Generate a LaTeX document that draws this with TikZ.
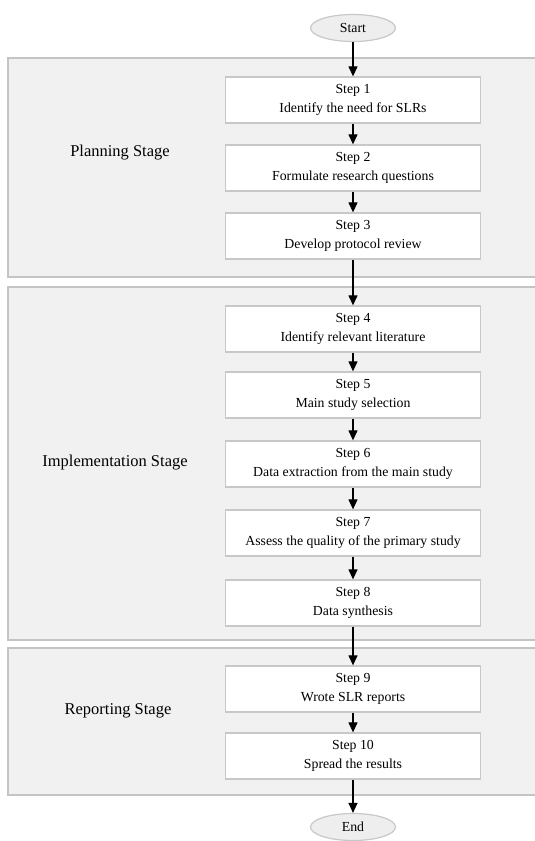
\documentclass[tikz,border=0pt]{standalone}
\usepackage{fontspec}
\setmainfont{Liberation Serif}
\usetikzlibrary{arrows.meta,shapes.geometric}
\definecolor{panelfill}{HTML}{F1F1F1}
\definecolor{panelline}{HTML}{C4C4C4}
\definecolor{boxline}{HTML}{C8C8C8}
\definecolor{ovalfill}{HTML}{EEEEEE}
\begin{document}
\begin{tikzpicture}[x=1pt,y=-1pt,
  panel/.style={fill=panelfill,draw=panelline,line width=1.2pt},
  stepbox/.style={draw=boxline,fill=white,line width=1.3pt,minimum width=255pt,minimum height=46pt,inner sep=0pt,align=center,font=\fontsize{13.8}{19}\selectfont},
  oval/.style={ellipse,draw=boxline,fill=ovalfill,line width=1.2pt,minimum width=85pt,minimum height=27pt,inner sep=0pt,font=\fontsize{13.8}{16}\selectfont},
  stagelabel/.style={font=\fontsize{16.5}{19}\selectfont,inner sep=0pt},
  flow/.style={-{Triangle[length=10pt,width=9pt]},line width=1.2pt,black}]
\useasboundingbox (0,0) rectangle (535,841);
\clip (0,0) rectangle (535,841);
\fill[white] (0,0) rectangle (535,841);
% panels
\draw[panel] (8,58) rectangle (545,277);
\draw[panel] (8,287) rectangle (545,640);
\draw[panel] (8,648) rectangle (545,795);
\node[stagelabel] (lp) at (120,153) {Planning Stage};
\node[stagelabel] (li) at (115,463) {Implementation Stage};
\node[stagelabel] (lr) at (118,711) {Reporting Stage};
% ovals
\node[oval] (start) at (353,28) {Start};
\node[oval] (end) at (353,827) {End};
% steps
\node[stepbox] (s1) at (353,100) {Step 1\\Identify the need for SLRs};
\node[stepbox] (s2) at (353,168) {Step 2\\Formulate research questions};
\node[stepbox] (s3) at (353,236) {Step 3\\Develop protocol review};
\node[stepbox] (s4) at (353,329) {Step 4\\Identify relevant literature};
\node[stepbox] (s5) at (353,395) {Step 5\\Main study selection};
\node[stepbox] (s6) at (353,464) {Step 6\\Data extraction from the main study};
\node[stepbox] (s7) at (353,533) {Step 7\\Assess the quality of the primary study};
\node[stepbox] (s8) at (353,603) {Step 8\\Data synthesis};
\node[stepbox] (s9) at (353,689) {Step 9\\Wrote SLR reports};
\node[stepbox] (s10) at (353,756) {Step 10\\Spread the results};
% arrows
\draw[flow] (start) -- (s1);
\draw[flow] (s1) -- (s2);
\draw[flow] (s2) -- (s3);
\draw[flow] (s3) -- (s4);
\draw[flow] (s4) -- (s5);
\draw[flow] (s5) -- (s6);
\draw[flow] (s6) -- (s7);
\draw[flow] (s7) -- (s8);
\draw[flow] (s8) -- (s9);
\draw[flow] (s9) -- (s10);
\draw[flow] (s10) -- (end);
\end{tikzpicture}
\end{document}
